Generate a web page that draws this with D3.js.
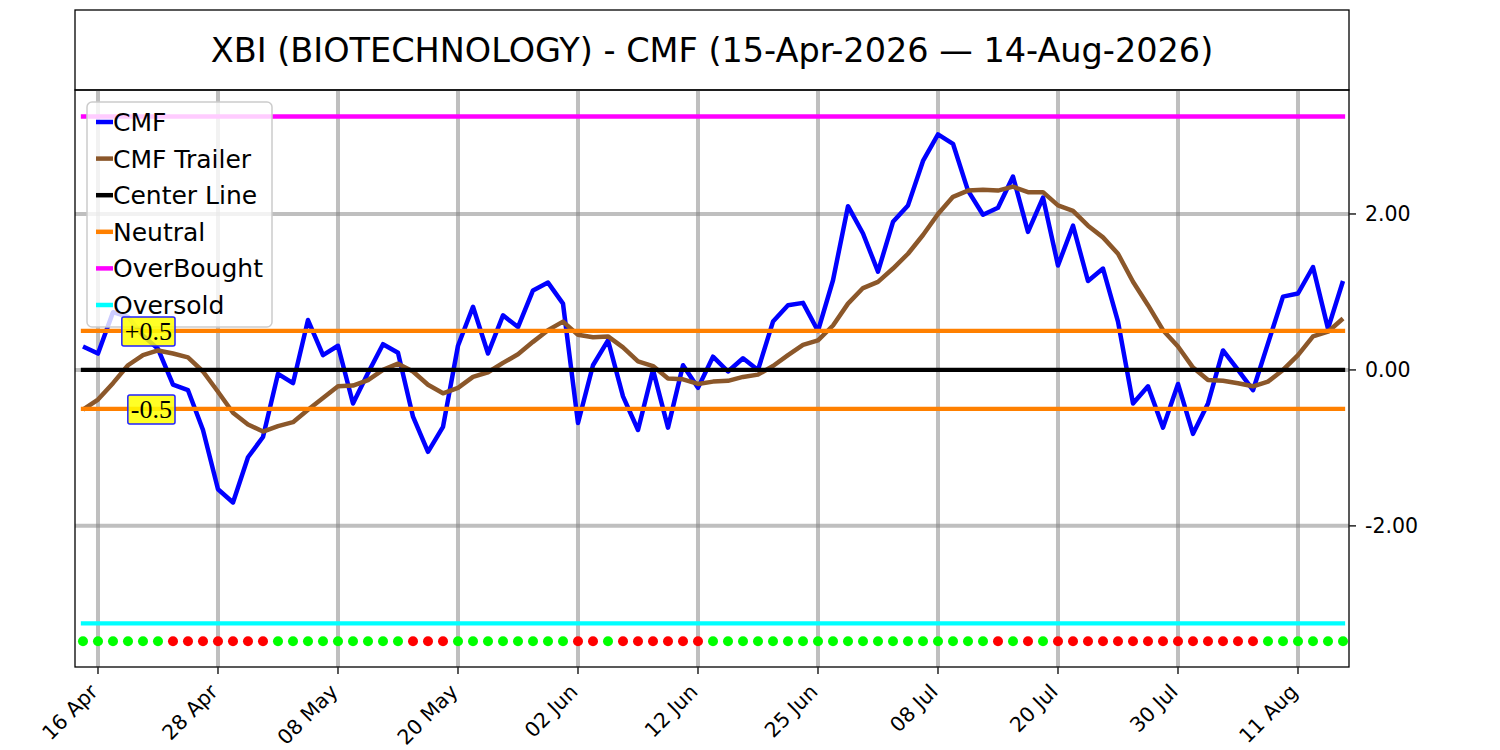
<!DOCTYPE html>
<html lang="en">
<head>
  <meta charset="UTF-8">
  <title>XBI CMF</title>
  <script src="https://d3js.org/d3.v7.min.js"></script>
  <style>
    body { margin: 0; background: #fff; }
  </style>
</head>
<body>
<div id="chart"></div>
<script>
  // trading days on the chart
  var dates = [
    "2026-04-15", "2026-04-16", "2026-04-17", "2026-04-20", "2026-04-21", "2026-04-22", "2026-04-23", "2026-04-24", "2026-04-27", "2026-04-28",
    "2026-04-29", "2026-04-30", "2026-05-01", "2026-05-04", "2026-05-05", "2026-05-06", "2026-05-07", "2026-05-08", "2026-05-11", "2026-05-12",
    "2026-05-13", "2026-05-14", "2026-05-15", "2026-05-18", "2026-05-19", "2026-05-20", "2026-05-21", "2026-05-22", "2026-05-26", "2026-05-27",
    "2026-05-28", "2026-05-29", "2026-06-01", "2026-06-02", "2026-06-03", "2026-06-04", "2026-06-05", "2026-06-08", "2026-06-09", "2026-06-10",
    "2026-06-11", "2026-06-12", "2026-06-15", "2026-06-16", "2026-06-17", "2026-06-18", "2026-06-22", "2026-06-23", "2026-06-24", "2026-06-25",
    "2026-06-26", "2026-06-29", "2026-06-30", "2026-07-01", "2026-07-02", "2026-07-06", "2026-07-07", "2026-07-08", "2026-07-09", "2026-07-10",
    "2026-07-13", "2026-07-14", "2026-07-15", "2026-07-16", "2026-07-17", "2026-07-20", "2026-07-21", "2026-07-22", "2026-07-23", "2026-07-24",
    "2026-07-27", "2026-07-28", "2026-07-29", "2026-07-30", "2026-07-31", "2026-08-03", "2026-08-04", "2026-08-05", "2026-08-06", "2026-08-07",
    "2026-08-10", "2026-08-11", "2026-08-12", "2026-08-13", "2026-08-14"
  ];

  var cmf = [
    0.30, 0.21, 0.74, 0.68, 0.44, 0.27, -0.19, -0.26, -0.77, -1.53,
    -1.70, -1.12, -0.86, -0.05, -0.17, 0.64, 0.19, 0.31, -0.43, -0.04,
    0.33, 0.22, -0.60, -1.05, -0.73, 0.31, 0.81, 0.21, 0.70, 0.55,
    1.02, 1.12, 0.85, -0.68, 0.06, 0.38, -0.34, -0.77, 0.00, -0.74,
    0.06, -0.23, 0.17, -0.02, 0.15, 0.00, 0.62, 0.83, 0.86, 0.50,
    1.15, 2.10, 1.75, 1.26, 1.90, 2.11, 2.68, 3.02, 2.90, 2.30,
    1.99, 2.08, 2.48, 1.77, 2.21, 1.34, 1.85, 1.14, 1.30, 0.62,
    -0.43, -0.21, -0.74, -0.18, -0.82, -0.43, 0.25, 0.00, -0.26, 0.34,
    0.94, 0.98, 1.32, 0.53, 1.14
  ];

  var trailer = [
    -0.51, -0.38, -0.17, 0.06, 0.19, 0.25, 0.21, 0.16, -0.02, -0.28,
    -0.55, -0.70, -0.79, -0.72, -0.67, -0.51, -0.36, -0.21, -0.20, -0.13,
    0.00, 0.08, -0.02, -0.19, -0.30, -0.23, -0.09, -0.03, 0.09, 0.20,
    0.36, 0.51, 0.62, 0.45, 0.42, 0.43, 0.29, 0.11, 0.05, -0.11,
    -0.12, -0.18, -0.15, -0.14, -0.09, -0.06, 0.05, 0.19, 0.32, 0.38,
    0.57, 0.85, 1.05, 1.13, 1.30, 1.49, 1.73, 2.00, 2.22, 2.30,
    2.31, 2.30, 2.35, 2.28, 2.28, 2.11, 2.04, 1.85, 1.70, 1.49,
    1.13, 0.83, 0.51, 0.30, 0.03, -0.13, -0.14, -0.17, -0.21, -0.15,
    0.00, 0.19, 0.43, 0.49, 0.66
  ];

  // signal dots along the bottom (g = green, r = red)
  var signal = [
    "g", "g", "g", "g", "g", "g", "r", "r", "r", "r",
    "r", "r", "r", "g", "g", "g", "g", "g", "g", "g",
    "g", "g", "r", "r", "r", "g", "g", "g", "g", "g",
    "g", "g", "g", "r", "r", "g", "r", "r", "r", "r",
    "r", "r", "g", "g", "g", "g", "g", "g", "g", "g",
    "g", "g", "g", "g", "g", "g", "g", "g", "g", "g",
    "g", "r", "g", "r", "g", "r", "r", "r", "r", "r",
    "r", "r", "r", "r", "r", "r", "r", "r", "r", "g",
    "g", "g", "g", "g", "g"
  ];

  var tickLabels = ["16 Apr", "28 Apr", "08 May", "20 May", "02 Jun", "12 Jun",
                    "25 Jun", "08 Jul", "20 Jul", "30 Jul", "11 Aug"];
  var yTicks = [-2, 0, 2];

  var centerLevel = 0;
  var neutralLevels = [0.5, -0.5];
  var overBought = 3.25;
  var overSold = -3.25;
  var dotLevel = -3.48;

  var title = "XBI (BIOTECHNOLOGY) - CMF (15-Apr-2026 \u2014 14-Aug-2026)";

  // layout
  var W = 1500, H = 750;
  var pLeft = 75, pRight = 1349, pTop = 90, pBottom = 667;
  var lw = 4.5;

  var svg = d3.select("#chart")
    .append("svg")
    .attr("width", W)
    .attr("height", H)
    .style("font-family", "DejaVu Sans, sans-serif");

  var x = d3.scaleLinear()
    .domain([-0.533, 84.4])
    .range([pLeft, pRight]);

  var y = d3.scaleLinear()
    .domain([-3.81, 3.59])
    .range([pBottom, pTop]);

  var fmt = d3.timeFormat("%d %b");
  var parse = d3.timeParse("%Y-%m-%d");
  var tickIdx = tickLabels.map(function(l) {
    return dates.findIndex(function(d) { return fmt(parse(d)) === l; });
  });

  // title box
  svg.append("rect")
    .attr("x", pLeft).attr("y", 10)
    .attr("width", pRight - pLeft).attr("height", pTop - 10)
    .attr("fill", "none").attr("stroke", "#000").attr("stroke-width", 1.3);
  svg.append("text")
    .attr("x", (pLeft + pRight) / 2).attr("y", 62)
    .attr("text-anchor", "middle")
    .style("font-size", "33.5px")
    .text(title);

  var plot = svg.append("g");
  plot.append("clipPath").attr("id", "clip")
    .append("rect")
    .attr("x", pLeft).attr("y", pTop)
    .attr("width", pRight - pLeft).attr("height", pBottom - pTop);

  // grid
  var grid = plot.append("g").attr("clip-path", "url(#clip)");
  grid.selectAll(".vg")
    .data(tickIdx)
    .enter()
    .append("line")
    .attr("x1", function(d) { return x(d); })
    .attr("x2", function(d) { return x(d); })
    .attr("y1", pTop).attr("y2", pBottom)
    .attr("stroke", "#808080").attr("stroke-opacity", 0.5).attr("stroke-width", 4);
  grid.selectAll(".hg")
    .data(yTicks)
    .enter()
    .append("line")
    .attr("x1", pLeft).attr("x2", pRight)
    .attr("y1", function(d) { return y(d); })
    .attr("y2", function(d) { return y(d); })
    .attr("stroke", "#808080").attr("stroke-opacity", 0.5).attr("stroke-width", 4);

  var line = d3.line()
    .x(function(d, i) { return x(i); })
    .y(function(d) { return y(d); });

  var lines = plot.append("g").attr("clip-path", "url(#clip)");
  lines.append("path")
    .datum(cmf)
    .attr("d", line)
    .attr("fill", "none").attr("stroke", "#0000ff").attr("stroke-width", lw)
    .attr("stroke-linejoin", "round");
  lines.append("path")
    .datum(trailer)
    .attr("d", line)
    .attr("fill", "none").attr("stroke", "#8b572a").attr("stroke-width", lw)
    .attr("stroke-linejoin", "round");

  // horizontal levels
  var levelLines = [
    { v: centerLevel, c: "#000000" },
    { v: neutralLevels[0], c: "#ff8000" },
    { v: neutralLevels[1], c: "#ff8000" },
    { v: overBought, c: "#ff00ff" },
    { v: overSold, c: "#00ffff" }
  ];
  lines.selectAll(".lvl")
    .data(levelLines)
    .enter()
    .append("line")
    .attr("x1", x(0)).attr("x2", x(dates.length - 1))
    .attr("y1", function(d) { return y(d.v); })
    .attr("y2", function(d) { return y(d.v); })
    .attr("stroke", function(d) { return d.c; })
    .attr("stroke-width", 4.3)
    .attr("stroke-linecap", "square");

  // signal dots
  lines.selectAll(".dot")
    .data(signal)
    .enter()
    .append("circle")
    .attr("cx", function(d, i) { return x(i); })
    .attr("cy", y(dotLevel))
    .attr("r", 5)
    .attr("fill", function(d) { return d === "r" ? "#ff0000" : "#00ff00"; });

  // frame
  plot.append("rect")
    .attr("x", pLeft).attr("y", pTop)
    .attr("width", pRight - pLeft).attr("height", pBottom - pTop)
    .attr("fill", "none").attr("stroke", "#000").attr("stroke-width", 1.3);

  // x axis
  var xa = plot.append("g");
  xa.selectAll(".xt")
    .data(tickIdx)
    .enter()
    .append("line")
    .attr("x1", function(d) { return x(d); })
    .attr("x2", function(d) { return x(d); })
    .attr("y1", pBottom).attr("y2", pBottom + 7)
    .attr("stroke", "#222").attr("stroke-width", 1.5);
  xa.selectAll(".xl")
    .data(tickIdx)
    .enter()
    .append("text")
    .attr("transform", function(d) {
      return "translate(" + (x(d) + 1) + "," + (pBottom + 26) + ") rotate(-45)";
    })
    .attr("text-anchor", "end")
    .style("font-size", "20.5px")
    .text(function(d, i) { return tickLabels[i]; });

  // y axis on the right
  var ya = plot.append("g");
  ya.selectAll(".yt")
    .data(yTicks)
    .enter()
    .append("line")
    .attr("x1", pRight).attr("x2", pRight + 7)
    .attr("y1", function(d) { return y(d); })
    .attr("y2", function(d) { return y(d); })
    .attr("stroke", "#222").attr("stroke-width", 1.5);
  ya.selectAll(".yl")
    .data(yTicks)
    .enter()
    .append("text")
    .attr("x", pRight + 16)
    .attr("y", function(d) { return y(d) + 7.5; })
    .style("font-size", "20.5px")
    .text(function(d) { return d.toFixed(2); });

  // legend
  var legendItems = [
    { name: "CMF", c: "#0000ff" },
    { name: "CMF Trailer", c: "#8b572a" },
    { name: "Center Line", c: "#000000" },
    { name: "Neutral", c: "#ff8000" },
    { name: "OverBought", c: "#ff00ff" },
    { name: "Oversold", c: "#00ffff" }
  ];
  var lg = svg.append("g");
  lg.append("rect")
    .attr("x", 87).attr("y", 102)
    .attr("width", 185).attr("height", 225)
    .attr("rx", 5)
    .attr("fill", "#fff").attr("fill-opacity", 0.8)
    .attr("stroke", "#cccccc").attr("stroke-width", 1.5);
  var row = lg.selectAll(".row")
    .data(legendItems)
    .enter()
    .append("g")
    .attr("transform", function(d, i) { return "translate(0," + (122 + i * 36.6) + ")"; });
  row.append("line")
    .attr("x1", 96).attr("x2", 113)
    .attr("stroke", function(d) { return d.c; })
    .attr("stroke-width", lw);
  row.append("text")
    .attr("x", 113).attr("y", 9)
    .style("font-size", "25px")
    .text(function(d) { return d.name; });

  // +0.5 / -0.5 tags
  neutralLevels.forEach(function(v) {
    var g = svg.append("g");
    var t = g.append("text")
      .attr("x", 172).attr("y", y(v))
      .attr("dy", "0.35em")
      .attr("text-anchor", "end")
      .style("font-family", "Liberation Serif, serif")
      .style("font-size", "26px")
      .text((v > 0 ? "+" : "") + v);
    var b = t.node().getBBox();
    g.insert("rect", "text")
      .attr("x", b.x - 3).attr("y", b.y)
      .attr("width", b.width + 6).attr("height", b.height)
      .attr("rx", 2)
      .attr("fill", "#ffff00").attr("fill-opacity", 0.85)
      .attr("stroke", "#2222ff").attr("stroke-width", 1.5);
  });
</script>
</body>
</html>
